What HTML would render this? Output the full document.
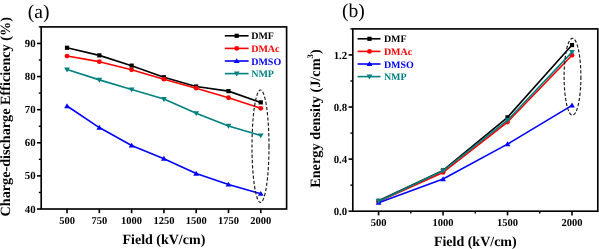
<!DOCTYPE html>
<html><head><meta charset="utf-8"><style>
html,body{margin:0;padding:0;background:#fff;}
body{width:599px;height:249px;overflow:hidden;}
svg{display:block;font-family:"Liberation Serif", serif;text-rendering:geometricPrecision;will-change:transform;}
</style></head><body>
<svg width="599" height="249" viewBox="0 0 599 249">
<rect width="599" height="249" fill="#fff"/>
<polyline points="67.03,47.76 99.32,55.37 131.61,65.64 163.90,77.23 196.19,86.50 228.48,91.13 260.77,102.39" fill="none" stroke="#000000" stroke-width="1.6" stroke-linejoin="round"/>
<rect x="64.93" y="45.66" width="4.2" height="4.2" fill="#000000"/>
<rect x="97.22" y="53.27" width="4.2" height="4.2" fill="#000000"/>
<rect x="129.51" y="63.54" width="4.2" height="4.2" fill="#000000"/>
<rect x="161.80" y="75.13" width="4.2" height="4.2" fill="#000000"/>
<rect x="194.09" y="84.40" width="4.2" height="4.2" fill="#000000"/>
<rect x="226.38" y="89.03" width="4.2" height="4.2" fill="#000000"/>
<rect x="258.67" y="100.29" width="4.2" height="4.2" fill="#000000"/>
<polyline points="67.03,56.04 99.32,61.66 131.61,69.78 163.90,79.21 196.19,88.15 228.48,97.75 260.77,108.35" fill="none" stroke="#ff0000" stroke-width="1.6" stroke-linejoin="round"/>
<circle cx="67.03" cy="56.04" r="2.4" fill="#ff0000"/>
<circle cx="99.32" cy="61.66" r="2.4" fill="#ff0000"/>
<circle cx="131.61" cy="69.78" r="2.4" fill="#ff0000"/>
<circle cx="163.90" cy="79.21" r="2.4" fill="#ff0000"/>
<circle cx="196.19" cy="88.15" r="2.4" fill="#ff0000"/>
<circle cx="228.48" cy="97.75" r="2.4" fill="#ff0000"/>
<circle cx="260.77" cy="108.35" r="2.4" fill="#ff0000"/>
<polyline points="67.03,106.03 99.32,127.55 131.61,145.43 163.90,158.67 196.19,173.57 228.48,184.50 260.77,193.77" fill="none" stroke="#0000ff" stroke-width="1.6" stroke-linejoin="round"/>
<path d="M67.03 103.23 L69.93 108.13 L64.13 108.13Z" fill="#0000ff"/>
<path d="M99.32 124.75 L102.22 129.65 L96.42 129.65Z" fill="#0000ff"/>
<path d="M131.61 142.63 L134.51 147.53 L128.71 147.53Z" fill="#0000ff"/>
<path d="M163.90 155.87 L166.80 160.77 L161.00 160.77Z" fill="#0000ff"/>
<path d="M196.19 170.77 L199.09 175.67 L193.29 175.67Z" fill="#0000ff"/>
<path d="M228.48 181.70 L231.38 186.60 L225.58 186.60Z" fill="#0000ff"/>
<path d="M260.77 190.97 L263.67 195.87 L257.87 195.87Z" fill="#0000ff"/>
<polyline points="67.03,69.61 99.32,79.87 131.61,89.48 163.90,99.08 196.19,113.31 228.48,125.90 260.77,135.50" fill="none" stroke="#008080" stroke-width="1.6" stroke-linejoin="round"/>
<path d="M67.03 72.41 L69.93 67.51 L64.13 67.51Z" fill="#008080"/>
<path d="M99.32 82.67 L102.22 77.77 L96.42 77.77Z" fill="#008080"/>
<path d="M131.61 92.28 L134.51 87.38 L128.71 87.38Z" fill="#008080"/>
<path d="M163.90 101.88 L166.80 96.98 L161.00 96.98Z" fill="#008080"/>
<path d="M196.19 116.11 L199.09 111.21 L193.29 111.21Z" fill="#008080"/>
<path d="M228.48 128.70 L231.38 123.80 L225.58 123.80Z" fill="#008080"/>
<path d="M260.77 138.30 L263.67 133.40 L257.87 133.40Z" fill="#008080"/>
<rect x="41.20" y="26.90" width="245.40" height="182.10" fill="none" stroke="#000" stroke-width="1.65"/>
<line x1="37.00" y1="209.00" x2="41.20" y2="209.00" stroke="#000" stroke-width="1.6"/>
<text x="35.60" y="212.60" font-size="10.8" font-weight="bold" text-anchor="end" fill="#000" >40</text>
<line x1="37.00" y1="175.89" x2="41.20" y2="175.89" stroke="#000" stroke-width="1.6"/>
<text x="35.60" y="179.49" font-size="10.8" font-weight="bold" text-anchor="end" fill="#000" >50</text>
<line x1="37.00" y1="142.78" x2="41.20" y2="142.78" stroke="#000" stroke-width="1.6"/>
<text x="35.60" y="146.38" font-size="10.8" font-weight="bold" text-anchor="end" fill="#000" >60</text>
<line x1="37.00" y1="109.67" x2="41.20" y2="109.67" stroke="#000" stroke-width="1.6"/>
<text x="35.60" y="113.27" font-size="10.8" font-weight="bold" text-anchor="end" fill="#000" >70</text>
<line x1="37.00" y1="76.56" x2="41.20" y2="76.56" stroke="#000" stroke-width="1.6"/>
<text x="35.60" y="80.16" font-size="10.8" font-weight="bold" text-anchor="end" fill="#000" >80</text>
<line x1="37.00" y1="43.45" x2="41.20" y2="43.45" stroke="#000" stroke-width="1.6"/>
<text x="35.60" y="47.05" font-size="10.8" font-weight="bold" text-anchor="end" fill="#000" >90</text>
<line x1="38.80" y1="192.45" x2="41.20" y2="192.45" stroke="#000" stroke-width="1.4"/>
<line x1="38.80" y1="159.34" x2="41.20" y2="159.34" stroke="#000" stroke-width="1.4"/>
<line x1="38.80" y1="126.23" x2="41.20" y2="126.23" stroke="#000" stroke-width="1.4"/>
<line x1="38.80" y1="93.12" x2="41.20" y2="93.12" stroke="#000" stroke-width="1.4"/>
<line x1="38.80" y1="60.01" x2="41.20" y2="60.01" stroke="#000" stroke-width="1.4"/>
<line x1="38.80" y1="26.90" x2="41.20" y2="26.90" stroke="#000" stroke-width="1.4"/>
<line x1="67.03" y1="209.00" x2="67.03" y2="213.20" stroke="#000" stroke-width="1.6"/>
<text x="67.03" y="223.60" font-size="10.5" font-weight="bold" text-anchor="middle" fill="#000" >500</text>
<line x1="99.32" y1="209.00" x2="99.32" y2="213.20" stroke="#000" stroke-width="1.6"/>
<text x="99.32" y="223.60" font-size="10.5" font-weight="bold" text-anchor="middle" fill="#000" >750</text>
<line x1="131.61" y1="209.00" x2="131.61" y2="213.20" stroke="#000" stroke-width="1.6"/>
<text x="131.61" y="223.60" font-size="10.5" font-weight="bold" text-anchor="middle" fill="#000" >1000</text>
<line x1="163.90" y1="209.00" x2="163.90" y2="213.20" stroke="#000" stroke-width="1.6"/>
<text x="163.90" y="223.60" font-size="10.5" font-weight="bold" text-anchor="middle" fill="#000" >1250</text>
<line x1="196.19" y1="209.00" x2="196.19" y2="213.20" stroke="#000" stroke-width="1.6"/>
<text x="196.19" y="223.60" font-size="10.5" font-weight="bold" text-anchor="middle" fill="#000" >1500</text>
<line x1="228.48" y1="209.00" x2="228.48" y2="213.20" stroke="#000" stroke-width="1.6"/>
<text x="228.48" y="223.60" font-size="10.5" font-weight="bold" text-anchor="middle" fill="#000" >1750</text>
<line x1="260.77" y1="209.00" x2="260.77" y2="213.20" stroke="#000" stroke-width="1.6"/>
<text x="260.77" y="223.60" font-size="10.5" font-weight="bold" text-anchor="middle" fill="#000" >2000</text>
<text x="163.90" y="244.20" font-size="14" font-weight="bold" text-anchor="middle" fill="#000" >Field (kV/cm)</text>
<text transform="translate(10.2,116.8) rotate(-90)" font-size="14.2" font-weight="bold" text-anchor="middle">Charge-discharge Efficiency (%)</text>
<text x="38.60" y="17.70" font-size="19.6" font-weight="normal" text-anchor="middle" fill="#000" >(a)</text>
<line x1="224.8" y1="35.80" x2="248.6" y2="35.80" stroke="#000000" stroke-width="1.6"/>
<rect x="234.60" y="33.70" width="4.2" height="4.2" fill="#000000"/>
<text x="251.20" y="39.30" font-size="10" font-weight="bold" text-anchor="start" fill="#000000" >DMF</text>
<line x1="224.8" y1="48.40" x2="248.6" y2="48.40" stroke="#ff0000" stroke-width="1.6"/>
<circle cx="236.70" cy="48.40" r="2.4" fill="#ff0000"/>
<text x="251.20" y="51.90" font-size="10" font-weight="bold" text-anchor="start" fill="#ff0000" >DMAc</text>
<line x1="224.8" y1="61.00" x2="248.6" y2="61.00" stroke="#0000ff" stroke-width="1.6"/>
<path d="M236.70 58.20 L239.60 63.10 L233.80 63.10Z" fill="#0000ff"/>
<text x="251.20" y="64.50" font-size="10" font-weight="bold" text-anchor="start" fill="#0000ff" >DMSO</text>
<line x1="224.8" y1="73.60" x2="248.6" y2="73.60" stroke="#008080" stroke-width="1.6"/>
<path d="M236.70 76.40 L239.60 71.50 L233.80 71.50Z" fill="#008080"/>
<text x="251.20" y="77.10" font-size="10" font-weight="bold" text-anchor="start" fill="#008080" >NMP</text>
<ellipse cx="260.5" cy="146.2" rx="8.5" ry="56.2" fill="none" stroke="#1a1a1a" stroke-width="1.15" stroke-dasharray="3.3 1.9"/>
<polyline points="378.59,200.78 443.06,170.44 507.54,117.32 572.01,45.05" fill="none" stroke="#000000" stroke-width="1.6" stroke-linejoin="round"/>
<rect x="376.49" y="198.68" width="4.2" height="4.2" fill="#000000"/>
<rect x="440.96" y="168.34" width="4.2" height="4.2" fill="#000000"/>
<rect x="505.44" y="115.22" width="4.2" height="4.2" fill="#000000"/>
<rect x="569.91" y="42.95" width="4.2" height="4.2" fill="#000000"/>
<polyline points="378.59,201.56 443.06,172.40 507.54,122.00 572.01,55.20" fill="none" stroke="#ff0000" stroke-width="1.6" stroke-linejoin="round"/>
<circle cx="378.59" cy="201.56" r="2.4" fill="#ff0000"/>
<circle cx="443.06" cy="172.40" r="2.4" fill="#ff0000"/>
<circle cx="507.54" cy="122.00" r="2.4" fill="#ff0000"/>
<circle cx="572.01" cy="55.20" r="2.4" fill="#ff0000"/>
<polyline points="378.59,202.74 443.06,179.04 507.54,144.14 572.01,105.34" fill="none" stroke="#0000ff" stroke-width="1.6" stroke-linejoin="round"/>
<path d="M378.59 199.94 L381.49 204.84 L375.69 204.84Z" fill="#0000ff"/>
<path d="M443.06 176.24 L445.96 181.14 L440.16 181.14Z" fill="#0000ff"/>
<path d="M507.54 141.34 L510.44 146.24 L504.64 146.24Z" fill="#0000ff"/>
<path d="M572.01 102.54 L574.91 107.44 L569.11 107.44Z" fill="#0000ff"/>
<polyline points="378.59,201.17 443.06,170.83 507.54,120.18 572.01,52.08" fill="none" stroke="#008080" stroke-width="1.6" stroke-linejoin="round"/>
<path d="M378.59 203.97 L381.49 199.07 L375.69 199.07Z" fill="#008080"/>
<path d="M443.06 173.63 L445.96 168.73 L440.16 168.73Z" fill="#008080"/>
<path d="M507.54 122.98 L510.44 118.08 L504.64 118.08Z" fill="#008080"/>
<path d="M572.01 54.88 L574.91 49.98 L569.11 49.98Z" fill="#008080"/>
<rect x="352.80" y="28.90" width="245.00" height="182.30" fill="none" stroke="#000" stroke-width="1.65"/>
<line x1="348.60" y1="211.20" x2="352.80" y2="211.20" stroke="#000" stroke-width="1.6"/>
<text x="347.20" y="214.80" font-size="10.8" font-weight="bold" text-anchor="end" fill="#000" >0.0</text>
<line x1="348.60" y1="159.11" x2="352.80" y2="159.11" stroke="#000" stroke-width="1.6"/>
<text x="347.20" y="162.71" font-size="10.8" font-weight="bold" text-anchor="end" fill="#000" >0.4</text>
<line x1="348.60" y1="107.03" x2="352.80" y2="107.03" stroke="#000" stroke-width="1.6"/>
<text x="347.20" y="110.63" font-size="10.8" font-weight="bold" text-anchor="end" fill="#000" >0.8</text>
<line x1="348.60" y1="54.94" x2="352.80" y2="54.94" stroke="#000" stroke-width="1.6"/>
<text x="347.20" y="58.54" font-size="10.8" font-weight="bold" text-anchor="end" fill="#000" >1.2</text>
<line x1="350.40" y1="185.16" x2="352.80" y2="185.16" stroke="#000" stroke-width="1.4"/>
<line x1="350.40" y1="133.07" x2="352.80" y2="133.07" stroke="#000" stroke-width="1.4"/>
<line x1="350.40" y1="80.99" x2="352.80" y2="80.99" stroke="#000" stroke-width="1.4"/>
<line x1="350.40" y1="28.90" x2="352.80" y2="28.90" stroke="#000" stroke-width="1.4"/>
<line x1="378.59" y1="211.20" x2="378.59" y2="215.40" stroke="#000" stroke-width="1.6"/>
<text x="378.59" y="225.60" font-size="10.5" font-weight="bold" text-anchor="middle" fill="#000" >500</text>
<line x1="443.06" y1="211.20" x2="443.06" y2="215.40" stroke="#000" stroke-width="1.6"/>
<text x="443.06" y="225.60" font-size="10.5" font-weight="bold" text-anchor="middle" fill="#000" >1000</text>
<line x1="507.54" y1="211.20" x2="507.54" y2="215.40" stroke="#000" stroke-width="1.6"/>
<text x="507.54" y="225.60" font-size="10.5" font-weight="bold" text-anchor="middle" fill="#000" >1500</text>
<line x1="572.01" y1="211.20" x2="572.01" y2="215.40" stroke="#000" stroke-width="1.6"/>
<text x="572.01" y="225.60" font-size="10.5" font-weight="bold" text-anchor="middle" fill="#000" >2000</text>
<line x1="410.83" y1="211.20" x2="410.83" y2="213.60" stroke="#000" stroke-width="1.4"/>
<line x1="475.30" y1="211.20" x2="475.30" y2="213.60" stroke="#000" stroke-width="1.4"/>
<line x1="539.77" y1="211.20" x2="539.77" y2="213.60" stroke="#000" stroke-width="1.4"/>
<text x="475.30" y="246.40" font-size="14" font-weight="bold" text-anchor="middle" fill="#000" >Field (kV/cm)</text>
<text transform="translate(320,118.6) rotate(-90)" font-size="14.3" font-weight="bold" text-anchor="middle">Energy density (J/cm<tspan font-size="8.6" dy="-7">3</tspan><tspan dy="7">)</tspan></text>
<text x="353.40" y="17.40" font-size="19.6" font-weight="normal" text-anchor="middle" fill="#000" >(b)</text>
<line x1="357.6" y1="38.80" x2="380.5" y2="38.80" stroke="#000000" stroke-width="1.6"/>
<rect x="367.40" y="36.70" width="4.2" height="4.2" fill="#000000"/>
<text x="383.90" y="42.30" font-size="10" font-weight="bold" text-anchor="start" fill="#000000" >DMF</text>
<line x1="357.6" y1="51.40" x2="380.5" y2="51.40" stroke="#ff0000" stroke-width="1.6"/>
<circle cx="369.50" cy="51.40" r="2.4" fill="#ff0000"/>
<text x="383.90" y="54.90" font-size="10" font-weight="bold" text-anchor="start" fill="#ff0000" >DMAc</text>
<line x1="357.6" y1="64.00" x2="380.5" y2="64.00" stroke="#0000ff" stroke-width="1.6"/>
<path d="M369.50 61.20 L372.40 66.10 L366.60 66.10Z" fill="#0000ff"/>
<text x="383.90" y="67.50" font-size="10" font-weight="bold" text-anchor="start" fill="#0000ff" >DMSO</text>
<line x1="357.6" y1="76.60" x2="380.5" y2="76.60" stroke="#008080" stroke-width="1.6"/>
<path d="M369.50 79.40 L372.40 74.50 L366.60 74.50Z" fill="#008080"/>
<text x="383.90" y="80.10" font-size="10" font-weight="bold" text-anchor="start" fill="#008080" >NMP</text>
<ellipse cx="572.5" cy="76.8" rx="8.4" ry="38.5" fill="none" stroke="#1a1a1a" stroke-width="1.15" stroke-dasharray="3.3 1.9"/>
</svg>
</body></html>
